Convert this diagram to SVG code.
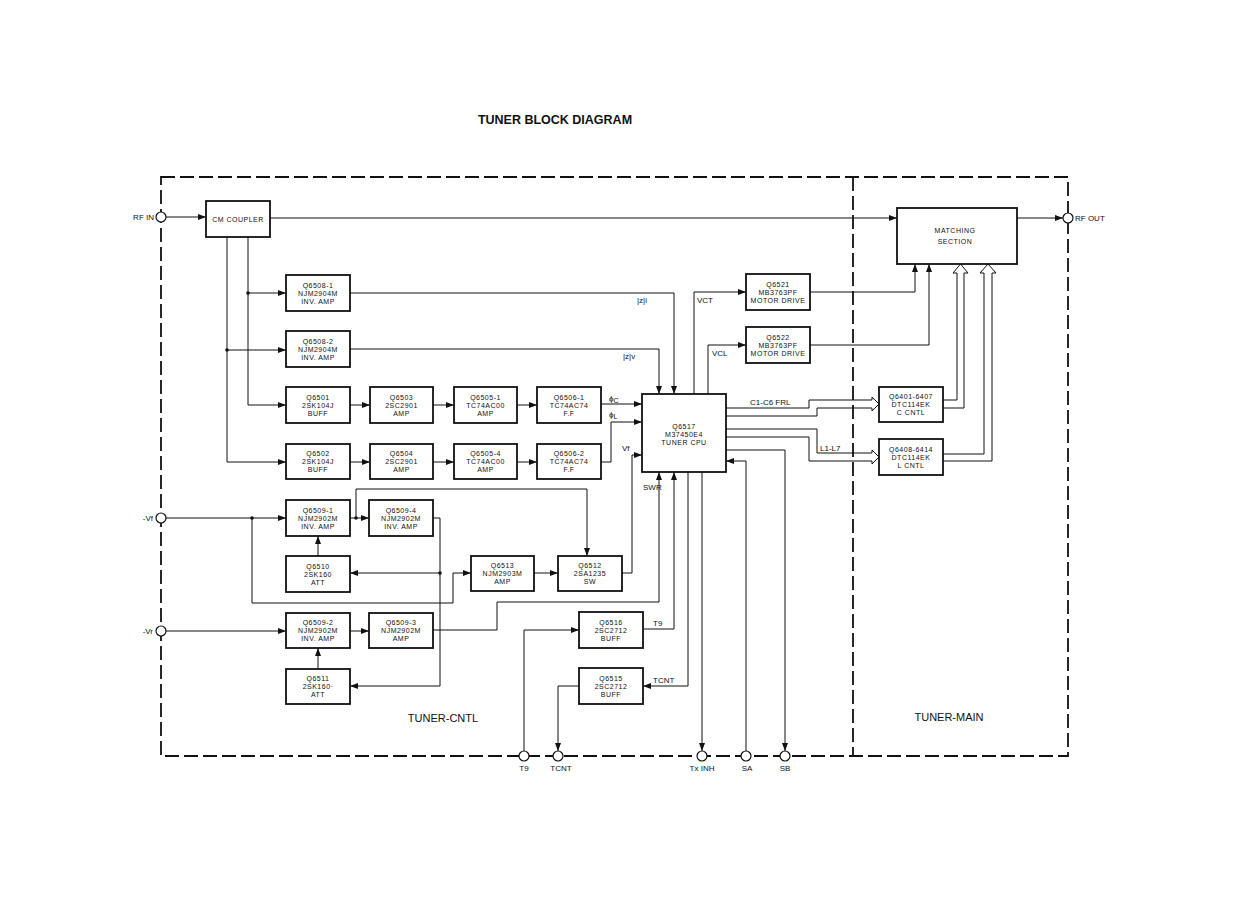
<svg xmlns="http://www.w3.org/2000/svg" width="1236" height="918" viewBox="0 0 1236 918">
<style>
.bg{fill:#ffffff}
.frame{fill:none;stroke:#111;stroke-width:1.8;stroke-dasharray:14 5}
.box{fill:#fff;stroke:#111;stroke-width:1.8}
.t{font-family:"Liberation Sans",Arial,sans-serif;font-size:7px;letter-spacing:0.5px;fill:#111;text-anchor:middle}
.l{font-family:"Liberation Sans",Arial,sans-serif;font-size:8px;fill:#111}
.c{font-family:"Liberation Sans",Arial,sans-serif;font-size:8px;fill:#111;text-anchor:middle}
.big{font-family:"Liberation Sans",Arial,sans-serif;font-size:11px;fill:#111;text-anchor:middle}
.title{font-family:"Liberation Sans",Arial,sans-serif;font-size:12.5px;font-weight:bold;fill:#111;text-anchor:middle}
.wa{fill:none;stroke:#111;stroke-width:1;marker-end:url(#ah)}
.bus{fill:none;stroke:#111;stroke-width:1}
.dot{fill:#111}
.port{fill:#fff;stroke:#111;stroke-width:1.2}
</style>
<defs>
<marker id="ah" markerUnits="userSpaceOnUse" markerWidth="8" markerHeight="6" refX="8" refY="3" orient="auto">
<path d="M0,0 L8,3 L0,6 z" fill="#111"/>
</marker>
</defs>
<rect class="bg" x="0" y="0" width="1236" height="918"/>
<text class="title" x="555" y="124">TUNER BLOCK DIAGRAM</text>

<g id="frame">
<path class="frame" d="M161,177 H1068 V756 H161 Z"/>
<path class="frame" d="M853,177 V756"/>
<text class="big" x="443" y="722">TUNER-CNTL</text>
<text class="big" x="949" y="721">TUNER-MAIN</text>
</g>

<g id="connectors">
<path class="wa" d="M166,217 H206"/>
<path class="wa" d="M270,218 H897"/>
<path class="wa" d="M1017,218 H1063"/>
<path class="wa" d="M248,237 V405 H286"/>
<path class="wa" d="M248,293 H286"/>
<path class="wa" d="M227,237 V462 H286"/>
<path class="wa" d="M227,350 H286"/>
<path class="wa" d="M350,405 H370"/>
<path class="wa" d="M433,405 H454"/>
<path class="wa" d="M517,405 H537"/>
<path class="wa" d="M601,404 H642"/>
<path class="wa" d="M350,462 H370"/>
<path class="wa" d="M433,462 H454"/>
<path class="wa" d="M517,462 H537"/>
<path class="wa" d="M601,462 H611 V422 H642"/>
<path class="wa" d="M350,293 H674 V394"/>
<path class="wa" d="M350,349 H659 V394"/>
<path class="wa" d="M694,394 V292 H746"/>
<path class="wa" d="M708,394 V345 H746"/>
<path class="wa" d="M810,292 H915 V264"/>
<path class="wa" d="M810,345 H929 V264"/>
<path class="bus" d="M726,408 H809 V400 H872 M726,416 H817 V408 H872 M872,400 V397 L879,404 L872,411 V408"/>
<path class="bus" d="M726,429 H817 V453 H872 M726,437 H809 V461 H872 M872,453 V450 L879,457 L872,464 V461"/>
<path class="bus" d="M943,400 H957 V273 M943,408 H964 V273 M957,273 H953 L960.5,264 L968,273 H964"/>
<path class="bus" d="M943,454 H984 V273 M943,461 H992 V273 M984,273 H980 L988,264 L996,273 H992"/>
<path class="wa" d="M726,450 H785 V751"/>
<path class="wa" d="M746,751 V461 H726"/>
<path class="wa" d="M702,472 V751"/>
<path class="wa" d="M688,472 V686 H643"/>
<path class="wa" d="M579,686 H558 V751"/>
<path class="wa" d="M524,751 V630 H579"/>
<path class="wa" d="M643,629 H674 V472"/>
<path class="wa" d="M433,630 H497 V602 H659 V472"/>
<path class="wa" d="M166,518 H286"/>
<path class="wa" d="M252,518 V603 H453 V573 H471"/>
<path class="wa" d="M350,518 H369"/>
<path class="wa" d="M356,518 V489 H587 V556"/>
<path class="wa" d="M433,518 H440 V686 H350"/>
<path class="wa" d="M440,573 H350"/>
<path class="wa" d="M534,573 H558"/>
<path class="wa" d="M622,573 H632 V455 H642"/>
<path class="wa" d="M318,556 V536"/>
<path class="wa" d="M318,669 V648"/>
<path class="wa" d="M166,631 H286"/>
<path class="wa" d="M350,631 H369"/>
<circle class="dot" cx="248" cy="293" r="1.8"/>
<circle class="dot" cx="227" cy="350" r="1.8"/>
<circle class="dot" cx="252" cy="518" r="1.8"/>
<circle class="dot" cx="356" cy="518" r="1.8"/>
<circle class="dot" cx="440" cy="573" r="1.8"/>
<text class="l" x="637" y="303">|z|i</text>
<text class="l" x="623" y="359">|z|v</text>
<text class="l" x="697" y="303">VCT</text>
<text class="l" x="712" y="356">VCL</text>
<text class="l" x="609" y="401" font-size="9">ϕ<tspan font-size="7" dy="2">C</tspan></text>
<text class="l" x="609" y="417" font-size="9">ϕ<tspan font-size="7" dy="2">L</tspan></text>
<text class="l" x="622" y="451">Vf</text>
<text class="l" x="643" y="490">SWR</text>
<text class="l" x="653" y="626">T9</text>
<text class="l" x="653" y="683">TCNT</text>
<text class="l" x="750" y="405">C1-C6 FRL</text>
<text class="l" x="820" y="451">L1-L7</text>
</g>

<g id="ports">
<circle class="port" cx="161" cy="217" r="5"/>
<text class="l" x="154" y="220" text-anchor="end">RF  IN</text>
<circle class="port" cx="1068" cy="218" r="5"/>
<text class="l" x="1075" y="221">RF OUT</text>
<circle class="port" cx="161" cy="518" r="5"/>
<text class="l" x="153" y="521" text-anchor="end">-Vf</text>
<circle class="port" cx="161" cy="631" r="5"/>
<text class="l" x="153" y="634" text-anchor="end">-Vr</text>
<circle class="port" cx="524" cy="756" r="5"/>
<text class="c" x="524" y="771">T9</text>
<circle class="port" cx="558" cy="756" r="5"/>
<text class="c" x="561" y="771">TCNT</text>
<circle class="port" cx="702" cy="756" r="5"/>
<text class="c" x="702" y="771">Tx INH</text>
<circle class="port" cx="746" cy="756" r="5"/>
<text class="c" x="747" y="771">SA</text>
<circle class="port" cx="785" cy="756" r="5"/>
<text class="c" x="785" y="771">SB</text>
</g>

<g id="cm-coupler"><rect class="box" x="206" y="201" width="64" height="36"/><text class="t" x="238" y="222">CM COUPLER</text></g>
<g id="q6508-1"><rect class="box" x="286" y="275" width="64" height="36"/><text class="t" x="318" y="287.5">Q6508-1</text><text class="t" x="318" y="295.5">NJM2904M</text><text class="t" x="318" y="303.5">INV. AMP</text></g>
<g id="q6508-2"><rect class="box" x="286" y="331" width="64" height="36"/><text class="t" x="318" y="343.5">Q6508-2</text><text class="t" x="318" y="351.5">NJM2904M</text><text class="t" x="318" y="359.5">INV. AMP</text></g>
<g id="q6501"><rect class="box" x="286" y="387" width="64" height="36"/><text class="t" x="318" y="399.5">Q6501</text><text class="t" x="318" y="407.5">2SK104J</text><text class="t" x="318" y="415.5">BUFF</text></g>
<g id="q6503"><rect class="box" x="370" y="387" width="63" height="36"/><text class="t" x="401.5" y="399.5">Q6503</text><text class="t" x="401.5" y="407.5">2SC2901</text><text class="t" x="401.5" y="415.5">AMP</text></g>
<g id="q6505-1"><rect class="box" x="454" y="387" width="63" height="36"/><text class="t" x="485.5" y="399.5">Q6505-1</text><text class="t" x="485.5" y="407.5">TC74AC00</text><text class="t" x="485.5" y="415.5">AMP</text></g>
<g id="q6506-1"><rect class="box" x="537" y="387" width="64" height="36"/><text class="t" x="569" y="399.5">Q6506-1</text><text class="t" x="569" y="407.5">TC74AC74</text><text class="t" x="569" y="415.5">F.F</text></g>
<g id="q6502"><rect class="box" x="286" y="444" width="64" height="35"/><text class="t" x="318" y="456">Q6502</text><text class="t" x="318" y="464">2SK104J</text><text class="t" x="318" y="472">BUFF</text></g>
<g id="q6504"><rect class="box" x="370" y="444" width="63" height="35"/><text class="t" x="401.5" y="456">Q6504</text><text class="t" x="401.5" y="464">2SC2901</text><text class="t" x="401.5" y="472">AMP</text></g>
<g id="q6505-4"><rect class="box" x="454" y="444" width="63" height="35"/><text class="t" x="485.5" y="456">Q6505-4</text><text class="t" x="485.5" y="464">TC74AC00</text><text class="t" x="485.5" y="472">AMP</text></g>
<g id="q6506-2"><rect class="box" x="537" y="444" width="64" height="35"/><text class="t" x="569" y="456">Q6506-2</text><text class="t" x="569" y="464">TC74AC74</text><text class="t" x="569" y="472">F.F</text></g>
<g id="q6517"><rect class="box" x="642" y="394" width="84" height="78"/><text class="t" x="684" y="429">Q6517</text><text class="t" x="684" y="437">M37450E4</text><text class="t" x="684" y="445">TUNER CPU</text></g>
<g id="q6521"><rect class="box" x="746" y="274" width="64" height="36"/><text class="t" x="778" y="286.5">Q6521</text><text class="t" x="778" y="294.5">MB3763PF</text><text class="t" x="778" y="302.5">MOTOR DRIVE</text></g>
<g id="q6522"><rect class="box" x="746" y="327" width="64" height="36"/><text class="t" x="778" y="339.5">Q6522</text><text class="t" x="778" y="347.5">MB3763PF</text><text class="t" x="778" y="355.5">MOTOR DRIVE</text></g>
<g id="matching"><rect class="box" x="897" y="208" width="120" height="56"/><text class="t" x="955" y="233">MATCHING</text><text class="t" x="955" y="244">SECTION</text></g>
<g id="q6401"><rect class="box" x="879" y="387" width="64" height="35"/><text class="t" x="911" y="399">Q6401-6407</text><text class="t" x="911" y="407">DTC114EK</text><text class="t" x="911" y="415">C CNTL</text></g>
<g id="q6408"><rect class="box" x="879" y="439" width="64" height="36"/><text class="t" x="911" y="451.5">Q6408-6414</text><text class="t" x="911" y="459.5">DTC114EK</text><text class="t" x="911" y="467.5">L CNTL</text></g>
<g id="q6509-1"><rect class="box" x="286" y="500" width="64" height="36"/><text class="t" x="318" y="512.5">Q6509-1</text><text class="t" x="318" y="520.5">NJM2902M</text><text class="t" x="318" y="528.5">INV. AMP</text></g>
<g id="q6509-4"><rect class="box" x="369" y="500" width="64" height="36"/><text class="t" x="401" y="512.5">Q6509-4</text><text class="t" x="401" y="520.5">NJM2902M</text><text class="t" x="401" y="528.5">INV. AMP</text></g>
<g id="q6510"><rect class="box" x="286" y="556" width="64" height="36"/><text class="t" x="318" y="568.5">Q6510</text><text class="t" x="318" y="576.5">2SK160</text><text class="t" x="318" y="584.5">ATT</text></g>
<g id="q6513"><rect class="box" x="471" y="556" width="63" height="35"/><text class="t" x="502.5" y="568">Q6513</text><text class="t" x="502.5" y="576">NJM2903M</text><text class="t" x="502.5" y="584">AMP</text></g>
<g id="q6512"><rect class="box" x="558" y="556" width="64" height="35"/><text class="t" x="590" y="568">Q6512</text><text class="t" x="590" y="576">2SA1235</text><text class="t" x="590" y="584">SW</text></g>
<g id="q6509-2"><rect class="box" x="286" y="613" width="64" height="35"/><text class="t" x="318" y="625">Q6509-2</text><text class="t" x="318" y="633">NJM2902M</text><text class="t" x="318" y="641">INV. AMP</text></g>
<g id="q6509-3"><rect class="box" x="369" y="613" width="64" height="35"/><text class="t" x="401" y="625">Q6509-3</text><text class="t" x="401" y="633">NJM2902M</text><text class="t" x="401" y="641">AMP</text></g>
<g id="q6511"><rect class="box" x="286" y="669" width="64" height="35"/><text class="t" x="318" y="681">Q6511</text><text class="t" x="318" y="689">2SK160·</text><text class="t" x="318" y="697">ATT</text></g>
<g id="q6516"><rect class="box" x="579" y="612" width="64" height="36"/><text class="t" x="611" y="624.5">Q6516</text><text class="t" x="611" y="632.5">2SC2712</text><text class="t" x="611" y="640.5">BUFF</text></g>
<g id="q6515"><rect class="box" x="579" y="668" width="64" height="36"/><text class="t" x="611" y="680.5">Q6515</text><text class="t" x="611" y="688.5">2SC2712</text><text class="t" x="611" y="696.5">BUFF</text></g>
</svg>
